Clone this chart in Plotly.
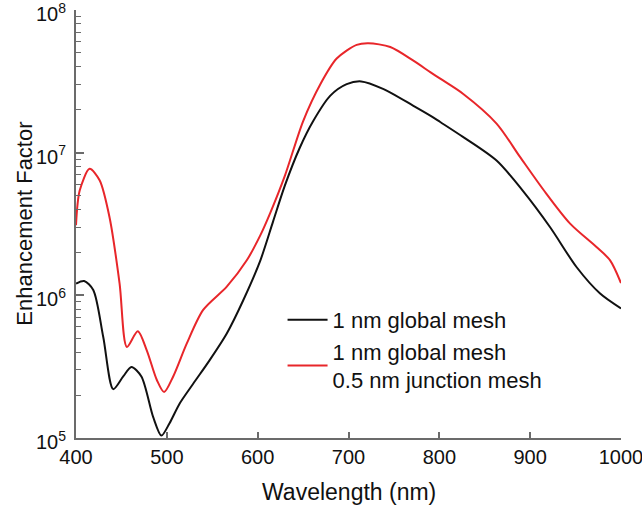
import plotly.graph_objects as go

# Wavelength (nm) and enhancement factor, 1 nm global mesh (black)
wl_black = [400, 409, 419, 430, 441, 452, 461, 472, 485, 494, 503, 514, 529, 547, 566, 584, 603,
            617, 630, 646, 661, 680, 698, 714, 738, 771, 790, 801, 826, 863, 892, 922, 951, 977, 1000]
ef_black = [1.21e6, 1.26e6, 1.09e6, 5.1e5, 2.2e5, 2.7e5, 3.15e5, 2.7e5, 1.4e5, 1.04e5, 1.27e5, 1.74e5,
            2.4e5, 3.5e5, 5.4e5, 9.2e5, 1.76e6,
            3.3e6, 5.9e6, 1.07e7, 1.66e7, 2.51e7, 3.02e7, 3.16e7, 2.8e7, 2.14e7, 1.82e7, 1.64e7, 1.29e7,
            8.8e6, 5.4e6, 3.0e6, 1.58e6, 1.03e6, 8.1e5]

# 1 nm global mesh + 0.5 nm junction mesh (red)
wl_red = [400, 404, 415, 426, 437, 448, 456, 468, 478, 489, 497, 507, 522, 540, 566, 588, 603,
          614, 630, 650, 669, 687, 709, 722, 746, 771, 790, 801, 826, 863, 889, 915, 944, 973, 988, 1000]
ef_red = [3.1e6, 5.4e6, 7.7e6, 6.4e6, 3.5e6, 1.21e6, 4.35e5, 5.6e5, 4.1e5, 2.55e5, 2.1e5, 2.7e5,
          4.6e5, 7.9e5, 1.15e6, 1.76e6, 2.64e6,
          3.8e6, 6.9e6, 1.66e7, 3.02e7, 4.57e7, 5.7e7, 5.85e7, 5.5e7, 4.43e7, 3.67e7, 3.3e7, 2.59e7, 1.6e7,
          9.3e6, 5.45e6, 3.18e6, 2.18e6, 1.76e6, 1.22e6]

x_ticks = [400, 500, 600, 700, 800, 900, 1000]
y_ticks = [1e5, 1e6, 1e7, 1e8]
y_tick_text = ["10<sup>5</sup>", "10<sup>6</sup>", "10<sup>7</sup>", "10<sup>8</sup>"]
y_minor = [m * 10 ** e for e in (5, 6, 7) for m in range(2, 10)]

FONT = "Liberation Sans, Arial, sans-serif"
AXIS_COLOR = "#6b6b6b"

fig = go.Figure()
fig.add_trace(go.Scatter(x=wl_black, y=ef_black, mode="lines", name="1 nm global mesh",
                         line=dict(color="#111111", width=2, shape="spline", smoothing=0.8)))
fig.add_trace(go.Scatter(x=wl_red, y=ef_red, mode="lines",
                         name="1 nm global mesh<br>0.5 nm junction mesh",
                         line=dict(color="#e8262a", width=2, shape="spline", smoothing=0.8)))

fig.update_layout(
    width=642, height=510,
    margin=dict(l=76, r=21, t=10, b=72, autoexpand=False),
    paper_bgcolor="white", plot_bgcolor="white",
    font=dict(family=FONT, size=20, color="#111111"),
    showlegend=True,
    legend=dict(x=0.379, y=0.325, xanchor="left", yanchor="top",
                bgcolor="rgba(0,0,0,0)", font=dict(size=22), tracegroupgap=5,
                itemwidth=40),
    xaxis=dict(range=[400, 1000], tickvals=x_ticks, ticks="inside", ticklen=6,
               tickcolor=AXIS_COLOR, tickwidth=1.5, showline=True, linecolor=AXIS_COLOR,
               linewidth=2, showgrid=False, zeroline=False, mirror=False,
               tickfont=dict(size=20), ticklabeloverflow="allow"),
    yaxis=dict(type="log", range=[5, 8], tickvals=y_ticks, ticktext=y_tick_text,
               ticks="inside", ticklen=8, tickcolor=AXIS_COLOR, tickwidth=1.5,
               showline=True, linecolor=AXIS_COLOR, linewidth=2, showgrid=False,
               zeroline=False, ticklabelstandoff=4, ticklabelshift=4, tickfont=dict(size=20),
               ticklabeloverflow="allow",
               minor=dict(tickmode="array", tickvals=y_minor, ticks="inside", ticklen=5,
                          tickcolor=AXIS_COLOR, tickwidth=1, showgrid=False)),
    annotations=[
        dict(text="Wavelength (nm)", xref="paper", yref="paper", x=0.5, y=-0.126,
             xanchor="center", yanchor="middle", showarrow=False, font=dict(size=23)),
        dict(text="Enhancement Factor", xref="paper", yref="paper", x=-0.096, y=0.5,
             xanchor="center", yanchor="middle", textangle=-90, showarrow=False,
             font=dict(size=22)),
    ],
)

fig.write_html("out.html")
